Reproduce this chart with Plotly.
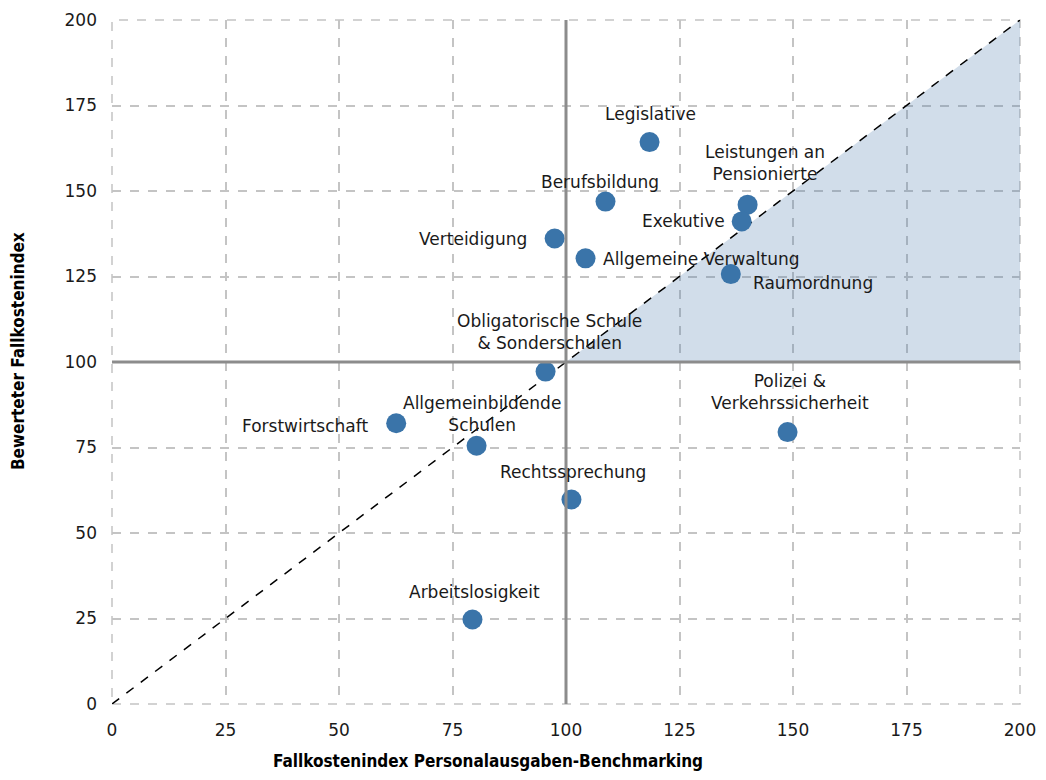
import plotly.graph_objects as go

# data
names = [
    "Legislative",
    "Berufsbildung",
    "Leistungen an<br>Pensionierte",
    "Exekutive",
    "Verteidigung",
    "Allgemeine Verwaltung",
    "Raumordnung",
    "Obligatorische Schule<br>& Sonderschulen",
    "Forstwirtschaft",
    "Allgemeinbildende<br>Schulen",
    "Polizei &<br>Verkehrssicherheit",
    "Rechtssprechung",
    "Arbeitslosigkeit",
]
x_vals = [118.4, 108.7, 140.0, 138.7, 97.5, 104.3, 136.3, 95.5, 62.6, 80.3, 148.8, 101.2, 79.4]
y_vals = [164.3, 146.9, 146.0, 141.1, 136.1, 130.3, 125.7, 97.2, 82.1, 75.5, 79.5, 59.8, 24.7]

x_title = "Fallkostenindex Personalausgaben-Benchmarking"
y_title = "Bewerteter Fallkostenindex"

# label placement (style only): anchor, x shift, y shift in px
label_pos = [
    ("center", 1, 28),
    ("center", -6, 20),
    ("center", 17, 42),
    ("right", -15, 0),
    ("right", -26, 0),
    ("left", 15, -1),
    ("left", 20, -9),
    ("center", 4, 40),
    ("right", -26, -3),
    ("center", 5, 32),
    ("center", 2, 40),
    ("center", 2, 27),
    ("center", 2, 28),
]

diag_x = [0, 200]
diag_y = [0, 200]
tri_x = [100, 200, 200, 100]
tri_y = [100, 200, 100, 100]
ticks = [0, 25, 50, 75, 100, 125, 150, 175, 200]

fig = go.Figure()

fig.add_trace(
    go.Scatter(
        x=tri_x,
        y=tri_y,
        mode="lines",
        fill="toself",
        fillcolor="rgba(70,120,170,0.25)",
        line=dict(width=0),
        hoverinfo="skip",
    )
)

fig.add_trace(
    go.Scatter(
        x=diag_x,
        y=diag_y,
        mode="lines",
        line=dict(color="black", width=1.5, dash="dash"),
        hoverinfo="skip",
    )
)

# dashed frame (grid lines at the range edges)
fig.add_shape(type="rect", x0=0, x1=1, y0=0, y1=1, xref="paper", yref="paper",
              line=dict(color="#c4c4c4", width=1.5, dash="dash"), layer="below")

fig.add_shape(type="line", x0=100, x1=100, y0=0, y1=200, xref="x", yref="y",
              line=dict(color="#8c8c8c", width=3))
fig.add_shape(type="line", x0=0, x1=200, y0=100, y1=100, xref="x", yref="y",
              line=dict(color="#8c8c8c", width=3))

fig.add_trace(
    go.Scatter(
        x=x_vals,
        y=y_vals,
        mode="markers",
        marker=dict(color="#3a74a9", size=20),
        text=[n.replace("<br>", " ") for n in names],
    )
)

for name, xv, yv, (anchor, dx, dy) in zip(names, x_vals, y_vals, label_pos):
    fig.add_annotation(
        x=xv,
        y=yv,
        text=name,
        showarrow=False,
        xanchor=anchor,
        yanchor="middle",
        xshift=dx,
        yshift=dy,
        align="center",
        font=dict(family="DejaVu Sans", size=17, color="#1a1a1a"),
    )

title_font = dict(family="DejaVu Sans Condensed, Liberation Sans Narrow, Arial",
                  size=17, color="black")

# axis titles, placed like the reference (left of centre / far left)
fig.add_annotation(
    text="<b>" + x_title + "</b>",
    xref="paper", yref="paper", x=0.414, y=-0.083,
    xanchor="center", yanchor="middle", showarrow=False, font=title_font,
)
fig.add_annotation(
    text="<b>" + y_title + "</b>",
    xref="paper", yref="paper", x=-0.1035, y=0.516, textangle=-90,
    xanchor="center", yanchor="middle", showarrow=False, font=title_font,
)

axis_style = dict(
    range=[0, 200],
    tickvals=ticks,
    showgrid=True,
    gridcolor="#c4c4c4",
    gridwidth=1.5,
    griddash="dash",
    zeroline=False,
    showline=False,
    automargin=False,
    tickfont=dict(family="DejaVu Sans", size=17, color="#1a1a1a"),
    ticks="",
    ticklabelstandoff=14,
)

fig.update_layout(
    width=1030,
    height=764,
    margin=dict(l=104, r=18, t=12, b=68),
    plot_bgcolor="white",
    paper_bgcolor="white",
    showlegend=False,
    font=dict(family="DejaVu Sans, sans-serif"),
    xaxis=axis_style,
    yaxis=axis_style,
)

fig.write_html("out.html")
